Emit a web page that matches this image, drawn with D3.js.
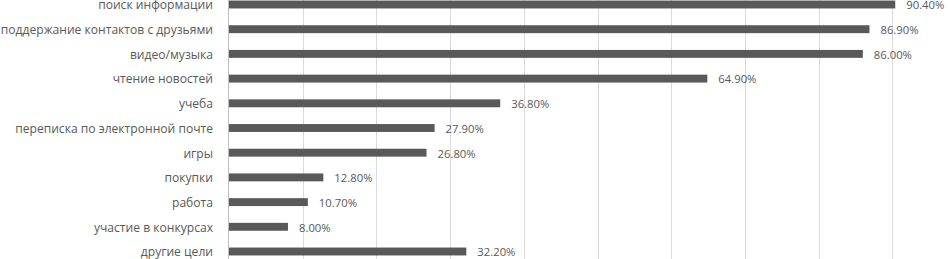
<!DOCTYPE html>
<html>
<head>
<meta charset="utf-8">
<script src="https://cdn.jsdelivr.net/npm/d3@7"></script>
<style>
  body { margin: 0; background: #fff; }
  svg { display: block; }
  text { font-family: "Open Sans", sans-serif; fill: #595959; }
</style>
</head>
<body>
<svg id="chart"></svg>
<script>
const categories = [
  "поиск информации",
  "поддержание контактов с друзьями",
  "видео/музыка",
  "чтение новостей",
  "учеба",
  "переписка по электронной почте",
  "игры",
  "покупки",
  "работа",
  "участие в конкурсах",
  "другие цели"
];
const values = [90.4, 86.9, 86.0, 64.9, 36.8, 27.9, 26.8, 12.8, 10.7, 8.0, 32.2];
const gridTicks = [10, 20, 30, 40, 50, 60, 70, 80, 90, 100];

const width = 949;
const height = 259;

const svg = d3.select("#chart")
  .attr("width", width)
  .attr("height", height);

const x = d3.scaleLinear()
  .domain([0, 100])
  .range([229, 966]);

const y = d3.scaleBand()
  .domain(categories)
  .range([-7.85, 263.85])
  .paddingInner(0.68)
  .paddingOuter(0.34);

// gridlines
svg.append("g")
  .selectAll("line")
  .data(gridTicks)
  .enter()
  .append("line")
  .attr("x1", d => Math.round(x(d)) + 0.5)
  .attr("x2", d => Math.round(x(d)) + 0.5)
  .attr("y1", 0)
  .attr("y2", height)
  .attr("stroke", "#d9d9d9")
  .attr("stroke-width", 1);

// bars
svg.append("g")
  .selectAll("rect")
  .data(values)
  .enter()
  .append("rect")
  .attr("x", x(0))
  .attr("y", (d, i) => y(categories[i]))
  .attr("width", d => x(d) - x(0))
  .attr("height", y.bandwidth())
  .attr("fill", "#595959");

// axis line
svg.append("line")
  .attr("x1", Math.round(x(0)) - 0.5)
  .attr("x2", Math.round(x(0)) - 0.5)
  .attr("y1", 0)
  .attr("y2", height)
  .attr("stroke", "#bfbfbf");

// category labels
svg.append("g")
  .selectAll("text")
  .data(categories)
  .enter()
  .append("text")
  .attr("x", 213)
  .attr("y", d => y(d) + y.bandwidth() / 2 + 4.8)
  .attr("text-anchor", "end")
  .attr("font-size", 12.1)
  .text(d => d);

// value labels
svg.append("g")
  .selectAll("text")
  .data(values)
  .enter()
  .append("text")
  .attr("x", d => x(d) + 11)
  .attr("y", (d, i) => y(categories[i]) + y.bandwidth() / 2 + 4.8)
  .attr("font-size", 11.3)
  .text(d => d.toFixed(2) + "%");
</script>
</body>
</html>
